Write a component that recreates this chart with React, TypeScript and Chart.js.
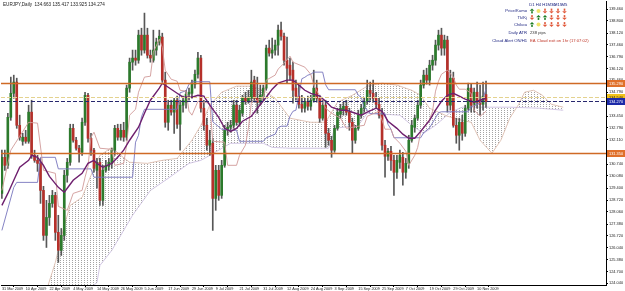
import React, { useEffect, useRef } from "react";
import { Chart, registerables } from "chart.js";

Chart.register(...registerables);

// ---------- data ----------
const dateLabels = [
  "31 Mar 2009", "10 Apr 2009", "22 Apr 2009", "4 May 2009", "14 May 2009", "26 May 2009",
  "5 Jun 2009", "17 Jun 2009", "29 Jun 2009", "9 Jul 2009", "21 Jul 2009", "31 Jul 2009",
  "12 Aug 2009", "24 Aug 2009", "3 Sep 2009", "15 Sep 2009", "25 Sep 2009", "7 Oct 2009",
  "19 Oct 2009", "29 Oct 2009", "10 Nov 2009",
];
const dateLabelBars = [0, 8, 16, 24, 32, 40, 48, 56, 64, 72, 80, 88, 96, 104, 112, 120, 128, 136, 144, 152, 160];

const priceTicks = [
  139.46, 138.8, 138.12, 137.46, 136.79, 136.12, 135.46, 134.79, 134.12, 133.45, 132.79, 132.11,
  131.45, 130.74, 130.08, 129.4, 128.72, 128.06, 127.38, 126.72, 126.04, 125.38, 124.7, 124.04,
];

const opens = [129.10,131.13,130.68,133.38,134.73,135.36,132.93,132.03,132.26,132.03,
133.67,131.24,130.96,130.79,129.27,126.74,127.75,128.54,128.99,126.91,
125.90,126.74,130.12,130.85,132.76,132.09,131.64,131.41,133.10,134.62,
132.20,131.53,130.40,130.85,128.71,130.40,130.62,130.79,131.53,132.76,
132.26,132.65,132.26,135.02,136.48,136.71,136.59,138.00,137.16,138.00,
136.87,136.59,137.16,137.61,137.89,135.47,133.10,134.06,133.67,134.34,
132.99,134.06,134.23,134.68,134.73,135.24,135.80,136.71,133.89,132.93,
131.81,131.92,128.82,130.40,128.99,130.68,132.65,132.82,132.93,134.06,
133.10,133.61,134.45,134.28,134.45,135.47,134.45,134.23,134.57,135.02,
137.27,136.99,137.16,137.44,138.28,137.94,136.59,136.31,136.03,135.02,
134.57,134.11,133.89,134.28,134.00,134.34,135.02,134.45,133.33,134.06,
132.48,132.09,131.53,132.76,133.55,133.78,134.00,133.67,133.10,132.09,
132.76,133.50,133.89,134.28,134.90,134.73,134.45,134.11,133.50,131.81,
131.19,131.47,130.96,130.29,130.85,131.13,130.29,130.79,132.09,132.82,
133.33,134.06,135.19,135.75,135.47,136.31,136.59,137.44,138.00,137.27,
137.72,134.06,135.58,132.93,132.37,133.10,132.48,133.89,135.02,134.06,
134.79,134.34,134.11,134.66];

const highs = [131.53,131.53,133.61,135.64,135.75,135.58,133.50,132.48,132.65,134.06,
134.34,131.53,131.24,131.07,129.50,128.71,128.99,129.27,129.16,127.87,
127.13,130.40,131.07,132.99,132.99,132.26,131.81,133.33,134.79,134.73,
132.48,131.64,131.07,131.07,130.68,130.96,131.07,131.64,132.93,132.99,
132.99,133.10,135.19,136.71,137.16,137.16,138.28,138.39,139.24,138.39,
137.16,138.28,137.83,138.28,138.11,135.92,134.34,134.34,134.45,134.57,
134.34,134.57,134.90,135.02,135.47,136.03,137.04,136.87,134.34,133.33,
132.65,132.20,130.68,130.68,130.96,132.93,133.10,133.21,134.34,134.34,
134.06,134.62,134.79,134.90,136.03,135.69,135.64,135.19,135.19,137.44,
137.72,137.83,137.72,138.56,138.73,138.11,137.89,136.71,136.48,135.47,
135.19,134.62,134.45,134.57,134.62,136.03,135.47,134.62,134.34,134.34,
132.76,132.31,132.93,133.89,134.11,134.23,134.34,133.89,133.33,132.93,
133.78,134.11,134.45,135.47,135.36,135.47,134.79,134.45,133.89,132.09,
131.64,131.75,131.24,131.24,131.53,131.41,131.07,132.37,133.21,133.50,
134.34,135.47,136.03,136.14,136.59,136.87,137.72,138.28,138.39,138.00,
137.94,136.03,135.92,133.33,133.33,133.50,134.06,135.30,135.24,135.02,
135.36,135.19,135.36,135.42];

const lows = [128.82,130.40,130.51,133.21,134.45,132.76,132.09,131.81,131.92,131.92,
131.07,130.85,130.34,128.54,126.46,126.06,127.30,128.32,126.46,125.22,
125.61,126.46,129.73,130.68,131.98,131.53,130.85,131.24,132.93,131.98,
131.24,130.29,129.39,128.43,128.43,130.29,130.40,130.51,131.24,132.09,
132.09,132.03,132.09,134.79,136.03,136.31,136.42,136.87,136.99,136.71,
136.48,136.48,136.87,137.44,135.36,132.82,132.65,133.50,132.48,132.76,
131.53,133.67,133.89,134.34,134.45,135.02,135.58,133.67,132.65,131.53,
131.24,127.02,128.15,128.71,128.82,130.57,132.37,132.54,132.76,132.93,
132.88,133.44,134.11,134.17,134.23,134.23,133.61,134.06,134.34,134.90,
136.82,136.71,136.87,136.87,137.72,136.31,135.30,135.47,134.17,134.34,
133.89,133.67,133.67,133.78,133.78,134.23,134.23,133.10,133.21,131.69,
131.81,131.13,131.41,132.65,133.33,133.50,133.50,132.65,131.36,131.92,
132.65,133.33,133.67,134.11,134.34,134.23,133.89,133.33,131.53,130.01,
130.96,130.40,128.99,129.95,130.51,129.56,129.95,130.51,131.98,132.54,
133.21,133.89,135.02,135.24,135.19,136.03,136.31,137.16,136.87,136.87,
133.67,133.78,132.82,131.92,131.53,132.09,132.31,133.78,133.67,133.67,
133.89,133.50,133.78,133.93];

const closes = [131.13,130.68,133.38,134.73,135.36,132.93,132.26,132.26,132.03,133.67,
131.24,130.96,130.79,129.27,126.74,127.75,128.54,128.99,126.91,125.90,
126.74,130.12,130.85,132.76,132.09,131.64,131.41,133.10,134.62,132.20,
131.53,130.51,130.85,128.71,130.40,130.68,130.85,131.53,132.76,132.26,
132.65,132.26,135.02,136.48,136.71,136.59,138.00,137.16,138.00,136.87,
136.71,137.16,137.61,137.94,135.47,133.10,134.06,133.67,134.34,132.99,
134.06,134.34,134.68,134.79,135.24,135.80,136.71,133.89,132.93,131.81,
132.09,128.82,130.40,128.99,130.68,132.65,132.82,132.93,134.06,133.10,
133.78,134.45,134.28,134.51,135.36,134.45,134.23,134.62,135.02,137.27,
136.99,137.16,137.44,138.28,137.94,136.59,136.14,135.75,134.90,134.57,
134.11,133.89,134.28,134.00,134.34,135.02,134.45,133.33,134.06,132.48,
132.09,131.53,132.76,133.67,133.89,134.00,133.67,133.10,132.09,132.76,
133.50,133.89,134.28,134.90,134.73,134.45,134.11,133.50,131.81,131.19,
131.47,130.96,130.29,130.96,131.24,130.29,130.79,132.09,132.93,133.33,
134.06,135.19,135.75,135.47,136.31,136.59,137.44,138.00,137.27,137.72,
134.06,135.58,132.93,132.37,133.10,132.48,133.89,135.02,134.06,134.79,
134.23,134.11,134.57,134.27];

// moving average (dark purple), read at sparse bars
const maBars = [0,2,4,6,9,10,12,14,16,19,21,22,24,27,29,31,32,34,37,39,41,43,46,48,50,53,54,56,59,61,64,66,68,70,73,75,77,79,81,84,86,89,91,93,96,98,100,102,104,107,109,111,114,116,119,121,123,126,128,130,133,135,137,139,141,144,146,148,150,152,154,156,159,161,163];
const maValues = [128.43,129.10,129.84,130.57,130.96,131.24,131.13,130.68,130.06,129.44,129.16,129.39,129.84,130.23,130.79,130.96,130.79,130.57,130.79,131.13,131.53,132.09,132.82,133.61,134.34,135.02,135.30,135.07,134.73,134.51,134.51,134.62,134.57,134.06,133.38,132.76,132.59,132.76,133.16,133.44,133.89,134.51,134.96,135.30,135.47,135.47,135.19,134.90,134.73,134.57,134.28,133.95,133.78,133.78,133.61,133.50,133.67,133.89,133.72,133.16,132.76,132.43,132.20,132.20,132.59,133.21,133.78,134.28,134.62,134.73,134.57,134.40,134.23,134.34,134.45];

// Tenkan-sen (rosy)
const tenkanBars = [0,3,6,9,12,14,18,19,22,24,27,28,29,30,31,33,37,38,41,42,43,45,46,48,50,51,53,54,55,57,59,60,62,63,64,66,70,71,75,76,79,80,82,83,84,88,89,92,93,95,97,98,102,104,105,107,109,111,114,116,120,122,123,127,129,131,132,134,136,137,139,140,141,142,144,145,146,147,148,150,152,153,154,156,158,159,161,163];
const tenkanValues = [129.27,131.53,132.31,133.10,133.05,130.40,130.23,128.37,128.15,129.10,129.27,130.01,130.62,132.26,132.54,131.64,131.58,130.68,130.79,131.81,133.50,133.83,134.79,135.64,135.69,137.04,137.77,137.32,136.03,135.52,135.41,134.90,134.85,133.72,133.50,134.28,134.17,132.03,131.98,130.68,130.68,131.24,131.81,132.76,134.23,134.45,135.47,135.75,136.09,136.42,136.82,136.48,136.20,135.80,135.19,134.57,133.89,133.61,133.33,132.76,132.88,132.93,133.44,133.72,132.71,132.71,132.26,131.92,131.47,130.68,131.24,131.69,132.54,132.82,133.27,133.72,134.85,135.41,135.80,136.03,135.64,135.19,134.96,134.96,134.73,133.78,133.44,133.72];

// Kijun-sen (slate blue)
const kijunBars = [0,4,5,12,13,18,19,30,31,44,45,46,47,48,59,60,62,63,64,70,71,74,77,79,80,88,89,92,93,94,96,97,98,99,100,101,102,103,104,105,108,109,110,119,120,121,122,123,124,129,130,131,132,141,142,144,146,147,148,157,158,161,162,163];
const kijunValues = [127.02,129.44,129.72,129.72,131.13,131.13,130.48,130.48,130.01,130.01,131.98,132.37,133.41,133.83,133.83,134.76,134.87,135.24,135.38,135.38,133.13,132.71,132.65,132.65,132.03,132.03,132.23,132.43,132.79,132.88,132.88,133.44,133.72,133.78,134.65,135.55,135.63,135.75,135.80,135.92,135.92,135.21,134.93,134.93,134.62,134.51,133.92,133.81,133.58,133.58,132.99,132.71,132.23,132.23,132.51,132.79,133.35,133.64,133.69,133.69,133.97,134.17,134.45,134.96];

// Senkou span A / B (cloud edges, shifted 26 bars ahead)
const spanABars = [15,18,21,23,27,30,33,37,40,43,49,54,59,64,67,70,74,79,84,88,92,97,104,109,113,118,123,128,133,138,141,144,150,155,158,161,165,168,171,174,176,179,182,185,189];
const spanAValues = [123.64,125.22,127.30,128.43,128.88,130.12,131.24,131.69,131.24,130.85,130.79,130.96,131.07,132.09,132.93,134.06,134.79,135.13,135.13,134.90,134.45,133.33,133.10,133.10,134.23,134.62,135.13,135.30,135.19,134.90,134.62,133.89,133.44,133.21,133.10,132.09,131.36,132.09,133.33,134.11,134.79,134.90,134.62,134.11,133.95];
const spanBBars = [15,27,32,33,37,40,44,50,56,63,67,70,77,88,91,97,110,112,120,123,134,138,142,146,151,155,161,171,181,189];
const spanBValues = [123.36,123.36,124.09,125.05,125.90,126.74,127.87,129.27,129.95,130.79,130.96,131.24,131.92,131.92,131.69,131.64,131.64,132.76,132.93,133.61,133.50,132.93,132.48,132.93,133.66,133.95,133.95,133.95,133.89,133.78];

// horizontal levels
const supportResistance = [135.29, 131.35];
const goldLevel = 134.54;
const bidPrice = 134.27;

const titleText = "EURJPY,Daily  134.663 135.417 133.925 134.274";
const panelCols = ["D1", "H4", "H1", "M30", "M15", "M5"];
const panelRows = ["Price/Kumo", "Tk/Kj", "Chikou"];
const panelStates = [
  ["up", "flat", "down", "down", "down", "down"],
  ["down", "up", "up", "down", "down", "down"],
  ["up", "flat", "down", "down", "down", "down"],
];

const FONT = "'Liberation Sans', Arial, sans-serif";

export default function App() {
  const ref = useRef<HTMLCanvasElement | null>(null);

  useEffect(() => {
    document.body.style.margin = "0";
    const canvas = ref.current;
    if (!canvas) return;
    const pc = document.createElement("canvas");
    pc.width = 3;
    pc.height = 2;
    const pctx = pc.getContext("2d")!;
    pctx.fillStyle = "#a4a4a4";
    pctx.fillRect(0, 0, 1, 1);
    const pattern = canvas.getContext("2d")!.createPattern(pc, "repeat")!;

    const idx = opens.map((_, i) => i);
    const pts = (bars: number[], vals: number[]) => bars.map((b, k) => ({ x: b, y: vals[k] }));

    const overlay = {
      id: "overlay",
      afterDatasetsDraw(chart: any) {
        const { ctx, chartArea, scales } = chart;
        const y = scales.y;
        const hline = (v: number, color: string, w: number, dash: number[]) => {
          const py = Math.round(y.getPixelForValue(v)) + 0.5;
          ctx.save();
          ctx.strokeStyle = color;
          ctx.lineWidth = w;
          ctx.setLineDash(dash);
          ctx.beginPath();
          ctx.moveTo(chartArea.left, py);
          ctx.lineTo(chartArea.right, py);
          ctx.stroke();
          ctx.restore();
        };
        supportResistance.forEach((v) => hline(v, "#cf6a25", 1.4, []));
        hline(goldLevel, "#e4d28e", 1, [4, 2]);
        hline(bidPrice, "#28286e", 1, [4, 2]);
      },
      afterDraw(chart: any) {
        const { ctx, chartArea, scales } = chart;
        const y = scales.y;
        const tag = (v: number, bg: string, fg: string) => {
          const py = y.getPixelForValue(v);
          ctx.save();
          ctx.fillStyle = bg;
          ctx.fillRect(chartArea.right + 1, Math.round(py) - 3, 19, 7);
          ctx.fillStyle = fg;
          ctx.font = `3.9px ${FONT}`;
          ctx.textBaseline = "middle";
          ctx.textAlign = "left";
          ctx.fillText(v.toFixed(3), chartArea.right + 3, Math.round(py) + 0.5);
          ctx.restore();
        };
        supportResistance.forEach((v) => tag(v, "#e0702a", "#ffffff"));
        tag(goldLevel, "#f2c21a", "#222222");
        tag(bidPrice, "#1c2aa8", "#ffffff");

        ctx.save();
        ctx.font = `4.6px ${FONT}`;
        ctx.fillStyle = "#222";
        ctx.textBaseline = "middle";
        ctx.textAlign = "left";
        ctx.fillText(titleText, 3, 5);

        // status panel
        const colX = [532, 538.5, 545, 551.5, 558, 564.5];
        ctx.font = `4.2px ${FONT}`;
        ctx.fillStyle = "#1d2580";
        ctx.textAlign = "center";
        panelCols.forEach((c, k) => ctx.fillText(c, colX[k], 4.5));
        const rowY = [11, 17.5, 24.5];
        panelRows.forEach((r, j) => {
          ctx.textAlign = "right";
          ctx.fillStyle = "#1d2580";
          ctx.fillText(r, 527, rowY[j]);
          panelStates[j].forEach((s, k) => {
            const cx = colX[k];
            const cy = rowY[j];
            if (s === "flat") {
              ctx.fillStyle = "#efe36a";
              ctx.beginPath();
              ctx.arc(cx, cy, 2, 0, Math.PI * 2);
              ctx.fill();
            } else {
              const up = s === "up";
              ctx.fillStyle = up ? "#1d7d24" : "#e0583a";
              const d = up ? -1 : 1;
              ctx.beginPath();
              ctx.moveTo(cx, cy + d * 2.6);
              ctx.lineTo(cx - 2.3, cy + d * 0.2);
              ctx.lineTo(cx + 2.3, cy + d * 0.2);
              ctx.closePath();
              ctx.fill();
              ctx.fillRect(cx - 0.8, up ? cy + 0.2 : cy - 2.4, 1.6, 2.2);
            }
          });
        });
        ctx.textAlign = "right";
        ctx.fillStyle = "#1d2580";
        ctx.fillText("Daily ATR", 527, 32.5);
        ctx.fillText("Cloud Alert ON/H1", 527, 40.5);
        ctx.textAlign = "left";
        ctx.fillStyle = "#333";
        ctx.fillText("238 pips", 530, 32.5);
        ctx.fillStyle = "#c0392b";
        ctx.fillText("EA Cloud exit on 1hr (17:07:02)", 530, 40.5);
        ctx.restore();
      },
    };

    const chart = new Chart(canvas, {
      type: "line",
      data: {
        datasets: [
          {
            type: "line",
            label: "Senkou A",
            data: pts(spanABars, spanAValues),
            borderColor: "#d9b6a6",
            borderWidth: 0.8,
            pointRadius: 0,
            fill: { target: "+1", above: pattern, below: pattern },
            order: 6,
          },
          {
            type: "line",
            label: "Senkou B",
            data: pts(spanBBars, spanBValues),
            borderColor: "#c6b8de",
            borderWidth: 0.8,
            pointRadius: 0,
            fill: false,
            order: 6,
          },
          {
            type: "bar",
            label: "wick",
            data: idx.map((i) => ({ x: i, y: [lows[i], highs[i]] })),
            backgroundColor: "#575757",
            barThickness: 1,
            grouped: false,
            order: 4,
          },
          {
            type: "bar",
            label: "body",
            data: idx.map((i) => ({ x: i, y: [opens[i], closes[i]] })),
            backgroundColor: idx.map((i) => (closes[i] >= opens[i] ? "#2c7a2c" : "#b5302a")),
            barThickness: 2,
            grouped: false,
            order: 3,
          },
          {
            type: "line",
            label: "Kijun",
            data: pts(kijunBars, kijunValues),
            borderColor: "#7775bd",
            borderWidth: 0.9,
            pointRadius: 0,
            order: 2,
          },
          {
            type: "line",
            label: "Tenkan",
            data: pts(tenkanBars, tenkanValues),
            borderColor: "#d09a98",
            borderWidth: 0.9,
            pointRadius: 0,
            order: 1,
          },
          {
            type: "line",
            label: "MA",
            data: pts(maBars, maValues),
            borderColor: "#6e1f6e",
            borderWidth: 1.4,
            pointRadius: 0,
            order: 0,
          },
        ],
      } as any,
      options: {
        responsive: false,
        animation: false,
        devicePixelRatio: 1,
        events: [],
        layout: { padding: { left: 1, top: 1, right: 0, bottom: 0 } },
        plugins: { legend: { display: false }, tooltip: { enabled: false } },
        elements: { line: { tension: 0 } },
        scales: {
          x: {
            type: "linear",
            min: -0.3,
            max: 203.4,
            offset: false,
            afterBuildTicks: (s: any) => {
              s.ticks = dateLabelBars.map((v) => ({ value: v }));
            },
            afterFit: (s: any) => {
              s.height = 6;
              s.paddingLeft = 0;
              s.paddingRight = 0;
            },
            ticks: {
              autoSkip: false,
              maxRotation: 0,
              minRotation: 0,
              align: "start",
              padding: 0,
              color: "#222",
              font: { size: 3.8, family: FONT },
              callback: (v: any) => {
                const k = dateLabelBars.indexOf(Number(v));
                return k >= 0 ? dateLabels[k] : "";
              },
            },
            grid: { drawOnChartArea: false, drawTicks: true, tickLength: 2, color: "#000" },
            border: { display: true, color: "#000", width: 1 },
          },
          y: {
            type: "linear",
            position: "right",
            min: 123.95,
            max: 139.92,
            afterBuildTicks: (s: any) => {
              s.ticks = priceTicks.map((v) => ({ value: v }));
            },
            afterFit: (s: any) => {
              s.width = 19;
              s.paddingTop = 0;
              s.paddingBottom = 0;
            },
            ticks: {
              autoSkip: false,
              padding: 1,
              color: "#222",
              font: { size: 3.9, family: FONT },
              callback: (v: any) => Number(v).toFixed(3),
            },
            grid: { drawOnChartArea: false, drawTicks: true, tickLength: 2, color: "#000" },
            border: { display: true, color: "#000", width: 1 },
          },
        },
      } as any,
      plugins: [overlay],
    });
    return () => chart.destroy();
  }, []);

  return (
    <div style={{ width: 625, height: 291, background: "#fff" }}>
      <canvas ref={ref} width={625} height={291} style={{ display: "block" }} />
    </div>
  );
}
